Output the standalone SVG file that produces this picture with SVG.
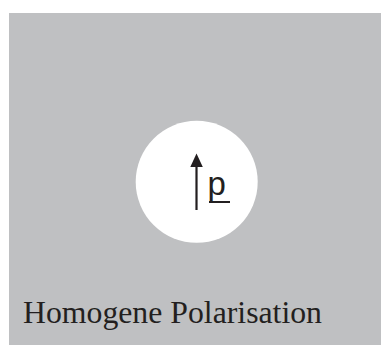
<svg xmlns="http://www.w3.org/2000/svg" width="381" height="345" viewBox="0 0 381 345">
<style>
.title{font-family:"Liberation Serif","Times New Roman",serif;font-size:32px;fill:#231f20}
.lbl{font-family:"Liberation Sans",Arial,sans-serif;font-size:33px;fill:#231f20}
</style>
<rect x="9" y="13" width="372" height="332" fill="#bfc0c2"/>
<g id="sphere">
<circle cx="196.7" cy="181.8" r="61" fill="#ffffff"/>
</g>
<g id="connectors">
<line x1="196.5" y1="210" x2="196.5" y2="166" stroke="#231f20" stroke-width="2.2"/>
<path d="M190.3,167 L196.5,153.5 L202.8,167 Z" fill="#231f20"/>
</g>
<g id="label-p">
<text class="lbl" x="207.5" y="194.5">p</text>
<line x1="209" y1="202" x2="230" y2="202" stroke="#231f20" stroke-width="2"/>
</g>
<g id="title">
<text class="title" x="23" y="323" textLength="299" lengthAdjust="spacingAndGlyphs">Homogene Polarisation</text>
</g>
</svg>
